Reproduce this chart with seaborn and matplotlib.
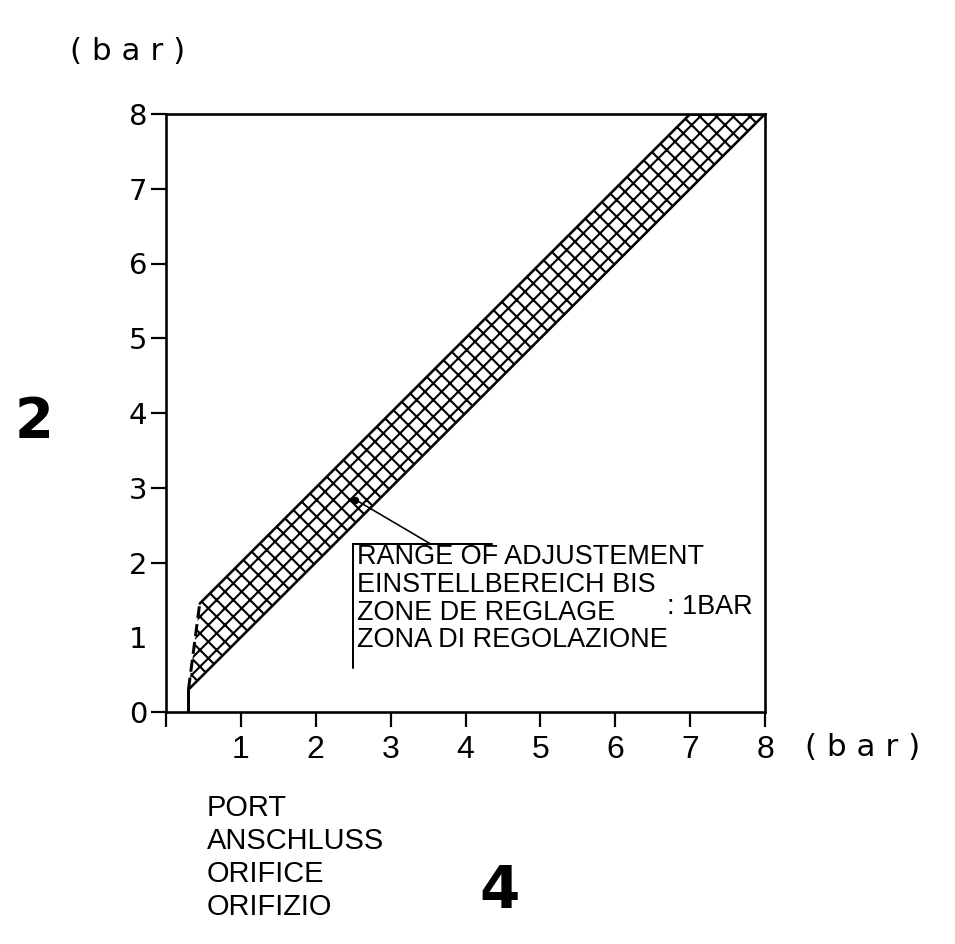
import matplotlib
matplotlib.use("Agg")
import matplotlib.pyplot as plt
import seaborn as sns

# ---- data ----
band_x = [0.3, 0.45, 7.0, 8.0]        # input pressure (port 4)
band_lower = [0.3, 0.45, 7.0, 8.0]    # lower limit of output pressure
band_upper = [0.3, 1.45, 8.0, 8.0]    # upper limit of output pressure
x_ticks = [0, 1, 2, 3, 4, 5, 6, 7, 8]
x_tick_labels = ["", "1", "2", "3", "4", "5", "6", "7", "8"]
y_ticks = [0, 1, 2, 3, 4, 5, 6, 7, 8]
y_tick_labels = ["0", "1", "2", "3", "4", "5", "6", "7", "8"]
note_lines = ["RANGE OF ADJUSTEMENT", "EINSTELLBEREICH BIS",
              "ZONE DE REGLAGE", "ZONA DI REGOLAZIONE"]
note_value = ": 1BAR"
port_lines = ["PORT", "ANSCHLUSS", "ORIFICE", "ORIFIZIO"]

W, H, DPI = 955, 944, 100


def px(v):
    """pixels -> points at the figure dpi"""
    return v * 72.0 / DPI


sns.set_theme(style="white")
plt.rcParams["font.family"] = ["DejaVu Sans"]
plt.rcParams["hatch.linewidth"] = px(2.1)
plt.rcParams["hatch.color"] = "black"
NARROW = ["Liberation Sans", "DejaVu Sans"]

fig = plt.figure(figsize=(W / DPI, H / DPI), dpi=DPI)
ax = fig.add_axes([166 / W, 1 - 712 / H, 599 / W, 598 / H])

# hatched band
ax.fill_between(band_x, band_lower, band_upper, facecolor="white",
                edgecolor="black", hatch="xx", linewidth=0, zorder=1)
# boundaries
kw = dict(ax=ax, color="black", sort=False, estimator=None, zorder=3)
sns.lineplot(x=band_x, y=band_lower, lw=px(2.6), **kw)
sns.lineplot(x=band_x[1:3], y=band_upper[1:3], lw=px(2.6), **kw)
sns.lineplot(x=band_x[0:2], y=band_upper[0:2], lw=px(3),
             linestyle=(0, (4, 2)), **kw)
sns.lineplot(x=[band_x[0], band_x[0]], y=[0, band_lower[0]], lw=px(3), **kw)
sns.lineplot(x=band_x[2:4], y=band_upper[2:4], lw=px(3.5), **kw)
ax.set_xlim(0, 8)
ax.set_ylim(0, 8)

# annotation
ax.plot([2.53], [2.84], marker="o", ms=px(6), color="black", zorder=4)
ax.plot([2.53, 3.53], [2.84, 2.25], color="black", lw=px(1.6), zorder=4)
ax.plot([2.50, 4.35], [2.25, 2.25], color="black", lw=px(2), zorder=4)
ax.plot([2.50, 2.50], [2.25, 0.59], color="black", lw=px(2), zorder=4)
for line, yy in zip(note_lines, [2.07, 1.70, 1.33, 0.96]):
    ax.text(2.55, yy, line, fontsize=px(27), family=NARROW, va="center",
            ha="left", color="black")
ax.text(6.69, 1.40, note_value, fontsize=px(27), family=NARROW, va="center",
        ha="left", color="black")

# axes styling
for s in ax.spines.values():
    s.set_visible(True)
    s.set_color("black")
    s.set_linewidth(px(2.6))
ax.set_xticks(x_ticks)
ax.set_xticklabels(x_tick_labels, family=NARROW, fontsize=px(32))
ax.set_yticks(y_ticks)
ax.set_yticklabels(y_tick_labels, fontsize=px(29))
ax.tick_params(axis="both", direction="out", length=px(15), width=px(2.2),
               color="black", labelcolor="black", bottom=True, left=True)
ax.tick_params(axis="x", pad=px(8))
ax.tick_params(axis="y", pad=px(4))
ax.yaxis.get_major_ticks()[1].tick1line.set_visible(False)
ax.set_xlabel("")
ax.set_ylabel("")

# outer labels
fig.text(70 / W, 1 - 52 / H, "( b a r )", fontsize=px(31), ha="left",
         va="center", color="black")
fig.text(805 / W, 1 - 748 / H, "( b a r )", fontsize=px(31), ha="left",
         va="center", color="black")
fig.text(34 / W, 1 - 422 / H, "2", fontsize=px(56), fontweight="bold",
         ha="center", va="center", color="black")
fig.text(500 / W, 1 - 892 / H, "4", fontsize=px(58), fontweight="bold",
         ha="center", va="center", color="black")
for line, yy in zip(port_lines, [808, 841, 874, 907]):
    fig.text(207 / W, 1 - yy / H, line, fontsize=px(29), family=NARROW,
             ha="left", va="center", color="black")

fig.savefig("out.png", dpi=DPI)
